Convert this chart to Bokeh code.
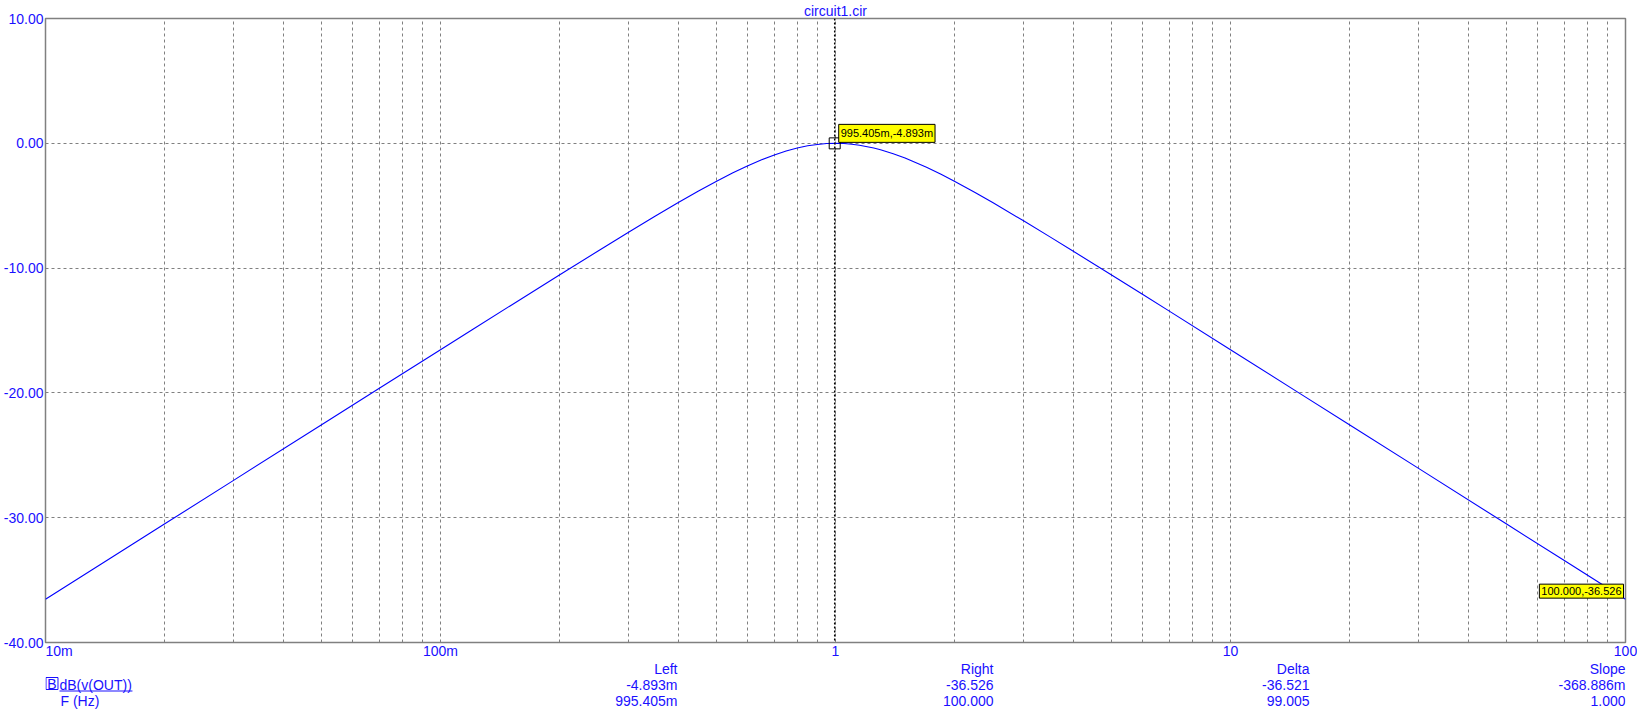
from bokeh.plotting import figure
from bokeh.layouts import column
from bokeh.models import (FixedTicker, PrintfTickFormatter, CustomJSTickFormatter, Span, Label,
                          Range1d)
from bokeh.embed import file_html
from bokeh.resources import INLINE

# ---------------- data ----------------
freq_hz = [0.01, 0.015, 0.02, 0.03, 0.05, 0.07, 0.1, 0.12, 0.15, 0.2, 0.25, 0.3, 0.35, 0.4,
           0.45, 0.5, 0.55, 0.6, 0.65, 0.7, 0.75, 0.8, 0.85, 0.9, 0.95, 1.0, 1.05, 1.1,
           1.15, 1.25, 1.3, 1.4, 1.5, 1.7, 1.85, 2.0, 2.25, 2.5, 3.0, 3.5, 4.0, 5.0, 6.0,
           7.0, 10.0, 15.0, 20.0, 30.0, 50.0, 70.0, 100.0]
gain_db = [-36.53, -33.01, -30.51, -26.99, -22.55, -19.63, -16.54, -14.96, -13.03, -10.55,
           -8.65, -7.11, -5.83, -4.75, -3.82, -3.04, -2.36, -1.79, -1.32, -0.93, -0.62,
           -0.38, -0.20, -0.09, -0.02, 0.0, -0.02, -0.07, -0.15, -0.38, -0.52, -0.83,
           -1.18, -1.92, -2.48, -3.04, -3.92, -4.75, -6.23, -7.52, -8.65, -10.55, -12.12,
           -13.45, -16.54, -20.06, -22.55, -26.07, -30.51, -33.43, -36.53]

y_ticks = [-40, -30, -20, -10, 0, 10]
x_ticks = [0.01, 0.1, 1, 10, 100]
x_tick_labels = ["10m", "100m", "1", "10", "100"]

cursor_left = [0.995405, -0.004893]
cursor_right = [100.0, -36.526]
cursor_left_text = "995.405m,-4.893m"
cursor_right_text = "100.000,-36.526"

table_headers = ["Left", "Right", "Delta", "Slope"]
table_row1 = ["-4.893m", "-36.526", "-36.521", "-368.886m"]
table_row2 = ["995.405m", "100.000", "99.005", "1.000"]
trace_name = "dB(v(OUT))"
trace_tag = "B"
x_name = "F (Hz)"
title_text = "circuit1.cir"

# ---------------- styles ----------------
BLUE = "#1a10ff"
GRID = "#808080"
FONT = "Liberation Sans"
W = 1637
H_PLOT = 661
H_TABLE = 50
FRAME_LEFT = 44
FRAME_RIGHT_BORDER = 12
FW = W - FRAME_LEFT - FRAME_RIGHT_BORDER

p = figure(width=W, height=H_PLOT, x_axis_type="log",
           x_range=Range1d(0.01, 100), y_range=Range1d(-40, 10),
           output_backend="svg", toolbar_location=None,
           min_border_left=0, min_border_right=FRAME_RIGHT_BORDER,
           min_border_bottom=0, min_border_top=0)

p.title.text = title_text
p.title.align = "center"
p.title.text_font = FONT
p.title.text_font_size = "14px"
p.title.text_font_style = "normal"
p.title.text_color = BLUE
p.title.standoff = 0
p.title.offset = 0

p.outline_line_color = GRID
p.outline_line_width = 1.5
p.background_fill_color = "white"
p.border_fill_color = "white"

minor = []
for k in range(-2, 2):
    for m in range(2, 10):
        minor.append(m * 10.0 ** k)

# first label is left-aligned at the frame edge (padded with no-break spaces)
p.xaxis.ticker = FixedTicker(ticks=x_ticks, minor_ticks=minor)
p.xaxis.formatter = CustomJSTickFormatter(args=dict(vals=x_ticks, labs=x_tick_labels), code="""
    for (let i = 0; i < vals.length; i++) {
        if (Math.abs(Math.log10(tick) - Math.log10(vals[i])) < 1e-6) {
            return i == 0 ? "\\u00a0".repeat(7) + labs[i] : labs[i];
        }
    }
    return "";
""")
p.yaxis.ticker = FixedTicker(ticks=y_ticks)
p.yaxis.formatter = PrintfTickFormatter(format="%.2f")

for ax in (p.xaxis[0], p.yaxis[0]):
    ax.axis_line_color = None
    ax.major_tick_line_color = None
    ax.minor_tick_line_color = None
    ax.major_tick_out = 0
    ax.major_tick_in = 0
    ax.minor_tick_out = 0
    ax.minor_tick_in = 0
    ax.major_label_text_color = BLUE
    ax.major_label_text_font = FONT
    ax.major_label_text_font_size = "14px"
p.xaxis.major_label_standoff = 0
p.yaxis.major_label_standoff = 2

p.xgrid.grid_line_color = GRID
p.xgrid.grid_line_dash = "3 3"
p.xgrid.minor_grid_line_color = GRID
p.xgrid.minor_grid_line_dash = "3 3"
p.ygrid.grid_line_color = GRID
p.ygrid.grid_line_dash = "3 3"

# curve
p.line(freq_hz, gain_db, line_color="blue", line_width=1.1)

# cursor
p.add_layout(Span(location=cursor_left[0], dimension="height", line_color="black",
                  line_dash="2 2", line_width=1.5))
p.scatter([cursor_left[0]], [cursor_left[1]], marker="square", size=11,
          fill_color=None, line_color="black", line_width=1)

pad = dict(left=2, right=2, top=3, bottom=3)
p.add_layout(Label(x=cursor_left[0], y=cursor_left[1], text=cursor_left_text,
                   x_offset=4, y_offset=1, text_align="left", text_baseline="bottom",
                   text_font=FONT, text_font_size="11px", text_color="black",
                   background_fill_color="yellow", border_line_color="black",
                   border_line_width=1, padding=pad))
p.add_layout(Label(x=cursor_right[0], y=cursor_right[1], text=cursor_right_text,
                   x_offset=-2, y_offset=1, text_align="right", text_baseline="bottom",
                   text_font=FONT, text_font_size="11px", text_color="black",
                   background_fill_color="yellow", border_line_color="black",
                   border_line_width=1, padding=pad))

# ---------------- cursor table strip (x: px from frame left, y: px from bottom) ----------------
q = figure(width=W, height=H_TABLE, x_range=Range1d(0, FW), y_range=Range1d(0, H_TABLE),
           output_backend="svg", toolbar_location=None, min_border=0)
q.xaxis.visible = False
q.yaxis.visible = False
q.xgrid.visible = False
q.ygrid.visible = False
q.outline_line_color = None
q.background_fill_color = "white"
q.border_fill_color = "white"

col_right_edges = [FW * 2 / 5, FW * 3 / 5, FW * 4 / 5, FW]
row_y = [43, 27, 11]
for i, hdr in enumerate(table_headers):
    for j, txt in enumerate([hdr, table_row1[i], table_row2[i]]):
        q.add_layout(Label(x=col_right_edges[i], y=row_y[j], text=txt, text_align="right",
                           text_baseline="middle", text_font=FONT, text_font_size="14px",
                           text_color=BLUE))

# trace tag box + name (underlined) + x variable
q.rect(x=[6.5], y=[28], width=12, height=12, fill_color=None, line_color=BLUE, line_width=1)
q.add_layout(Label(x=6.5, y=27.5, text=trace_tag, text_align="center", text_baseline="middle",
                   text_font=FONT, text_font_size="14px", text_color=BLUE))
q.add_layout(Label(x=14, y=26.5, text=trace_name, text_align="left", text_baseline="middle",
                   text_font=FONT, text_font_size="14px", text_color=BLUE))
q.segment(x0=[14], y0=[20.5], x1=[87], y1=[20.5], line_color=BLUE, line_width=1)
q.add_layout(Label(x=15, y=10.5, text=x_name, text_align="left", text_baseline="middle",
                   text_font=FONT, text_font_size="14px", text_color=BLUE))

layout = column(p, q, spacing=0)
open("out.html", "w").write(file_html(layout, INLINE))
